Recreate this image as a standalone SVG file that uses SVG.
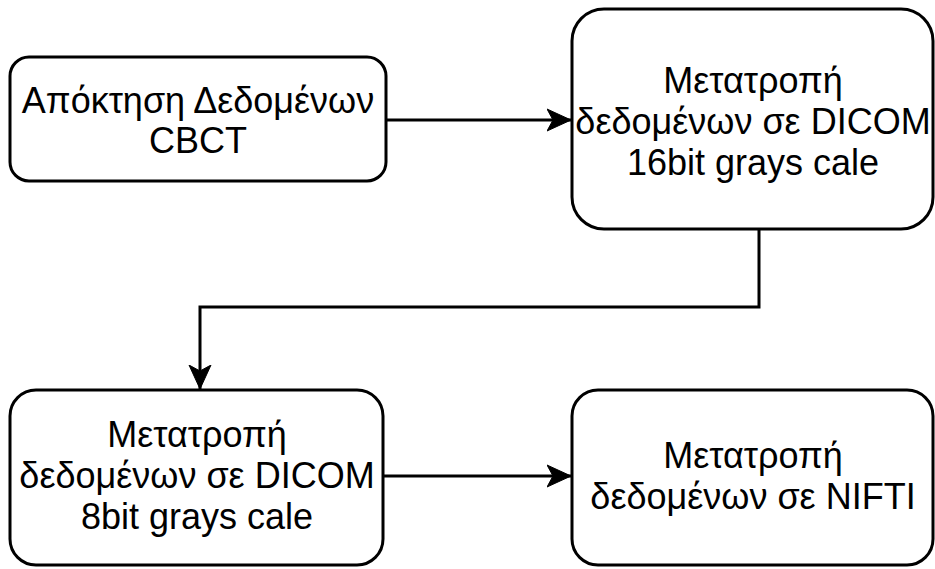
<svg xmlns="http://www.w3.org/2000/svg" width="935" height="569" viewBox="0 0 935 569">
<style>
.box{fill:#fff;stroke:#000;stroke-width:3}
.t{font-family:"Liberation Sans",Arial,sans-serif;font-size:36px;fill:#000;text-anchor:middle}
.c{fill:none;stroke:#000;stroke-width:3}
</style>
<defs>
<marker id="arr" viewBox="0 0 26 26" refX="24" refY="13" markerWidth="26" markerHeight="26" orient="auto" markerUnits="userSpaceOnUse">
<path d="M0,2 L24,13 L0,24 L6,13 Z" fill="#000" stroke="#000" stroke-width="1"/>
</marker>
</defs>
<g id="connectors">
<path class="c" d="M386,120 H571" marker-end="url(#arr)"/>
<path class="c" d="M759,229 V307 H200 V389" marker-end="url(#arr)"/>
<path class="c" d="M383,476 H571" marker-end="url(#arr)"/>
</g>
<g id="n1">
<rect class="box" x="10" y="57" width="376" height="124" rx="19"/>
<text class="t" x="198" y="113">Απόκτηση Δεδομένων</text>
<text class="t" x="198" y="153">CBCT</text>
</g>
<g id="n2">
<rect class="box" x="572" y="9" width="361" height="220" rx="32"/>
<text class="t" x="753" y="93">Μετατροπή</text>
<text class="t" x="753" y="134">δεδομένων σε DICOM</text>
<text class="t" x="753" y="175">16bit grays cale</text>
</g>
<g id="n3">
<rect class="box" x="10" y="390" width="373" height="175" rx="26"/>
<text class="t" x="197" y="447">Μετατροπή</text>
<text class="t" x="197" y="488">δεδομένων σε DICOM</text>
<text class="t" x="197" y="529">8bit grays cale</text>
</g>
<g id="n4">
<rect class="box" x="572" y="390" width="361" height="175" rx="26"/>
<text class="t" x="753" y="468">Μετατροπή</text>
<text class="t" x="753" y="509">δεδομένων σε NIFTI</text>
</g>
</svg>
